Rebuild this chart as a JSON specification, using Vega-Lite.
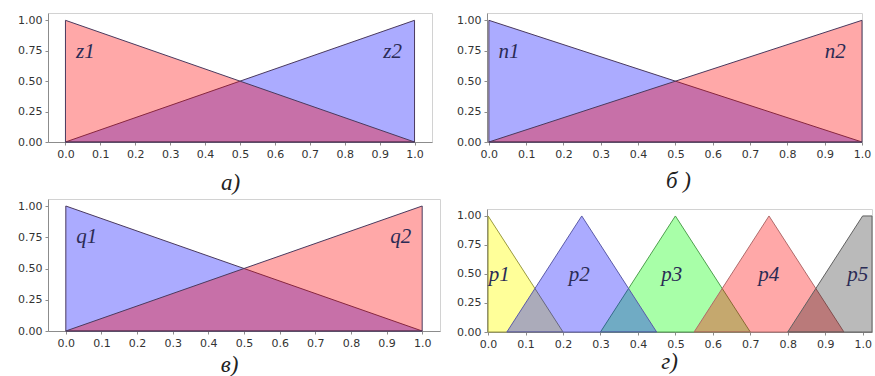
{
  "$schema": "https://vega.github.io/schema/vega-lite/v6.json",
  "background": "white",
  "padding": {"left": 17, "top": 12, "right": 0, "bottom": 0},
  "spacing": 15,
  "config": {
    "view": {"stroke": "#d2d2d2", "fill": "white"},
    "axis": {
      "grid": false,
      "labelFont": "DejaVu Sans",
      "labelFontSize": 11,
      "labelColor": "#333333",
      "domainColor": "#8c8c8c",
      "tickColor": "#8c8c8c",
      "tickSize": 3,
      "labelPadding": 3,
      "titleFont": "Liberation Serif",
      "titleFontStyle": "italic",
      "titleFontWeight": "normal",
      "titleFontSize": 23,
      "titleColor": "#222222",
      "titleBaseline": "top",
      "titleAlign": "center"
    },
    "text": {"font": "Liberation Serif", "fontStyle": "italic", "fontSize": 21, "color": "#2b2b55", "baseline": "middle", "align": "center"}
  },
  "datasets": {
    "aArea": [
      {"s": "z2", "x": 0, "y": 0}, {"s": "z2", "x": 1, "y": 1},
      {"s": "z1", "x": 0, "y": 1}, {"s": "z1", "x": 1, "y": 0}
    ],
    "aLab": [{"x": 0.057, "y": 0.74, "label": "z1"}, {"x": 0.937, "y": 0.74, "label": "z2"}],
    "bArea": [
      {"s": "n1", "x": 0, "y": 1}, {"s": "n1", "x": 1, "y": 0},
      {"s": "n2", "x": 0, "y": 0}, {"s": "n2", "x": 1, "y": 1}
    ],
    "bLab": [{"x": 0.054, "y": 0.74, "label": "n1"}, {"x": 0.928, "y": 0.74, "label": "n2"}],
    "cArea": [
      {"s": "q1", "x": 0, "y": 1}, {"s": "q1", "x": 1, "y": 0},
      {"s": "q2", "x": 0, "y": 0}, {"s": "q2", "x": 1, "y": 1}
    ],
    "cLab": [{"x": 0.059, "y": 0.75, "label": "q1"}, {"x": 0.94, "y": 0.75, "label": "q2"}],
    "dArea": [
      {"s": "p1", "x": 0, "y": 1}, {"s": "p1", "x": 0.2, "y": 0},
      {"s": "p3", "x": 0.3, "y": 0}, {"s": "p3", "x": 0.5, "y": 1}, {"s": "p3", "x": 0.7, "y": 0},
      {"s": "p2", "x": 0.05, "y": 0}, {"s": "p2", "x": 0.25, "y": 1}, {"s": "p2", "x": 0.45, "y": 0},
      {"s": "p4", "x": 0.55, "y": 0}, {"s": "p4", "x": 0.75, "y": 1}, {"s": "p4", "x": 0.95, "y": 0},
      {"s": "p5", "x": 0.8, "y": 0}, {"s": "p5", "x": 1.0, "y": 1}, {"s": "p5", "x": 1.025, "y": 1}
    ],
    "dLab": [
      {"x": 0.03, "y": 0.49, "label": "p1"}, {"x": 0.243, "y": 0.49, "label": "p2"},
      {"x": 0.49, "y": 0.49, "label": "p3"}, {"x": 0.749, "y": 0.49, "label": "p4"},
      {"x": 0.987, "y": 0.49, "label": "p5"}
    ]
  },
  "hconcat": [
    {
      "bounds": "flush",
      "spacing": 57,
      "vconcat": [
        {
          "width": 384, "height": 129,
          "encoding": {
            "x": {"field": "x", "type": "quantitative", "scale": {"domain": [-0.05, 1.05], "nice": false, "zero": false},
                  "axis": {"values": [0, 0.1, 0.2, 0.3, 0.4, 0.5, 0.6, 0.7, 0.8, 0.9, 1.0], "format": ".1f", "labelFlush": false, "title": "а)", "titleX": 182, "titleY": 29}},
            "y": {"field": "y", "type": "quantitative", "stack": null, "scale": {"domain": [0, 1.06], "nice": false},
                  "axis": {"values": [0, 0.25, 0.5, 0.75, 1.0], "format": ".2f", "title": null, "labelFlush": false}}
          },
          "layer": [
            {
              "data": {"name": "aArea"},
              "mark": {"type": "area", "strokeWidth": 1},
              "encoding": {
                "fill": {"field": "s", "type": "nominal", "legend": null,
                         "scale": {"domain": ["z1","z2","n1","n2","q1","q2","p1","p2","p3","p4","p5"],
                                   "range": ["rgba(255,0,0,0.34)","rgba(0,0,255,0.33)","rgba(0,0,255,0.33)","rgba(255,0,0,0.34)","rgba(0,0,255,0.33)","rgba(255,0,0,0.34)","rgba(255,255,0,0.4)","rgba(0,0,255,0.33)","rgba(0,255,0,0.34)","rgba(255,0,0,0.34)","rgba(0,0,0,0.27)"]}},
                "stroke": {"field": "s", "type": "nominal", "legend": null,
                           "scale": {"domain": ["z1","z2","n1","n2","q1","q2","p1","p2","p3","p4","p5"],
                                     "range": ["#4a3a5e","#4a3a5e","#4a3a5e","#4a3a5e","#4a3a5e","#4a3a5e","#9a9a40","#5a5aa8","#4ea04e","#b06a6a","#606060"]}}
              }
            },
            {
              "data": {"name": "aLab"},
              "mark": {"type": "text"},
              "encoding": {"text": {"field": "label"}}
            }
          ]
        },
        {
          "width": 392, "height": 132,
          "encoding": {
            "x": {"field": "x", "type": "quantitative", "scale": {"domain": [-0.05, 1.05], "nice": false, "zero": false},
                  "axis": {"values": [0, 0.1, 0.2, 0.3, 0.4, 0.5, 0.6, 0.7, 0.8, 0.9, 1.0], "format": ".1f", "labelFlush": false, "title": "в)", "titleX": 181, "titleY": 22}},
            "y": {"field": "y", "type": "quantitative", "stack": null, "scale": {"domain": [0, 1.056], "nice": false},
                  "axis": {"values": [0, 0.25, 0.5, 0.75, 1.0], "format": ".2f", "title": null, "labelFlush": false}}
          },
          "layer": [
            {
              "data": {"name": "cArea"},
              "mark": {"type": "area", "strokeWidth": 1},
              "encoding": {
                "fill": {"field": "s", "type": "nominal", "legend": null,
                         "scale": {"domain": ["z1","z2","n1","n2","q1","q2","p1","p2","p3","p4","p5"],
                                   "range": ["rgba(255,0,0,0.34)","rgba(0,0,255,0.33)","rgba(0,0,255,0.33)","rgba(255,0,0,0.34)","rgba(0,0,255,0.33)","rgba(255,0,0,0.34)","rgba(255,255,0,0.4)","rgba(0,0,255,0.33)","rgba(0,255,0,0.34)","rgba(255,0,0,0.34)","rgba(0,0,0,0.27)"]}},
                "stroke": {"field": "s", "type": "nominal", "legend": null,
                           "scale": {"domain": ["z1","z2","n1","n2","q1","q2","p1","p2","p3","p4","p5"],
                                     "range": ["#4a3a5e","#4a3a5e","#4a3a5e","#4a3a5e","#4a3a5e","#4a3a5e","#9a9a40","#5a5aa8","#4ea04e","#b06a6a","#606060"]}}
              }
            },
            {
              "data": {"name": "cLab"},
              "mark": {"type": "text"},
              "encoding": {"text": {"field": "label"}}
            }
          ]
        }
      ]
    },
    {
      "bounds": "flush",
      "spacing": 67,
      "vconcat": [
        {
          "width": 375, "height": 129,
          "encoding": {
            "x": {"field": "x", "type": "quantitative", "scale": {"domain": [-0.005, 1.0], "nice": false, "zero": false},
                  "axis": {"values": [0, 0.1, 0.2, 0.3, 0.4, 0.5, 0.6, 0.7, 0.8, 0.9, 1.0], "format": ".1f", "labelFlush": false, "title": "б )", "titleX": 191, "titleY": 27}},
            "y": {"field": "y", "type": "quantitative", "stack": null, "scale": {"domain": [0, 1.06], "nice": false},
                  "axis": {"values": [0, 0.25, 0.5, 0.75, 1.0], "format": ".2f", "title": null, "labelFlush": false}}
          },
          "layer": [
            {
              "data": {"name": "bArea"},
              "mark": {"type": "area", "strokeWidth": 1},
              "encoding": {
                "fill": {"field": "s", "type": "nominal", "legend": null,
                         "scale": {"domain": ["z1","z2","n1","n2","q1","q2","p1","p2","p3","p4","p5"],
                                   "range": ["rgba(255,0,0,0.34)","rgba(0,0,255,0.33)","rgba(0,0,255,0.33)","rgba(255,0,0,0.34)","rgba(0,0,255,0.33)","rgba(255,0,0,0.34)","rgba(255,255,0,0.4)","rgba(0,0,255,0.33)","rgba(0,255,0,0.34)","rgba(255,0,0,0.34)","rgba(0,0,0,0.27)"]}},
                "stroke": {"field": "s", "type": "nominal", "legend": null,
                           "scale": {"domain": ["z1","z2","n1","n2","q1","q2","p1","p2","p3","p4","p5"],
                                     "range": ["#4a3a5e","#4a3a5e","#4a3a5e","#4a3a5e","#4a3a5e","#4a3a5e","#9a9a40","#5a5aa8","#4ea04e","#b06a6a","#606060"]}}
              }
            },
            {
              "data": {"name": "bLab"},
              "mark": {"type": "text"},
              "encoding": {"text": {"field": "label"}}
            }
          ]
        },
        {
          "width": 385, "height": 123,
          "encoding": {
            "x": {"field": "x", "type": "quantitative", "scale": {"domain": [-0.003, 1.025], "nice": false, "zero": false},
                  "axis": {"values": [0, 0.1, 0.2, 0.3, 0.4, 0.5, 0.6, 0.7, 0.8, 0.9, 1.0], "format": ".1f", "labelFlush": false, "title": "г)", "titleX": 182, "titleY": 18}},
            "y": {"field": "y", "type": "quantitative", "stack": null, "scale": {"domain": [0, 1.06], "nice": false},
                  "axis": {"values": [0, 0.25, 0.5, 0.75, 1.0], "format": ".2f", "title": null, "labelFlush": false}}
          },
          "layer": [
            {
              "data": {"name": "dArea"},
              "mark": {"type": "area", "strokeWidth": 1},
              "encoding": {
                "fill": {"field": "s", "type": "nominal", "legend": null,
                         "scale": {"domain": ["z1","z2","n1","n2","q1","q2","p1","p2","p3","p4","p5"],
                                   "range": ["rgba(255,0,0,0.34)","rgba(0,0,255,0.33)","rgba(0,0,255,0.33)","rgba(255,0,0,0.34)","rgba(0,0,255,0.33)","rgba(255,0,0,0.34)","rgba(255,255,0,0.4)","rgba(0,0,255,0.33)","rgba(0,255,0,0.34)","rgba(255,0,0,0.34)","rgba(0,0,0,0.27)"]}},
                "stroke": {"field": "s", "type": "nominal", "legend": null,
                           "scale": {"domain": ["z1","z2","n1","n2","q1","q2","p1","p2","p3","p4","p5"],
                                     "range": ["#4a3a5e","#4a3a5e","#4a3a5e","#4a3a5e","#4a3a5e","#4a3a5e","#9a9a40","#5a5aa8","#4ea04e","#b06a6a","#606060"]}}
              }
            },
            {
              "data": {"name": "dLab"},
              "mark": {"type": "text"},
              "encoding": {"text": {"field": "label"}}
            }
          ]
        }
      ]
    }
  ]
}
